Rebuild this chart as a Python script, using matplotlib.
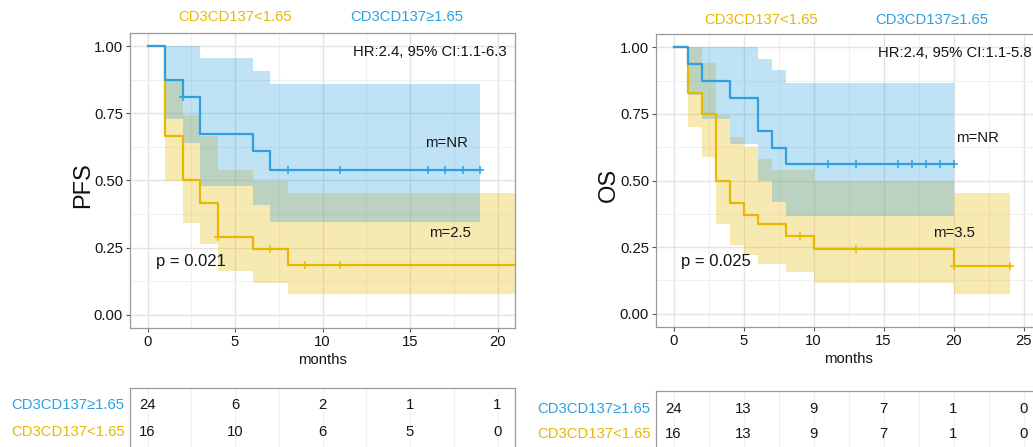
import matplotlib
matplotlib.use("Agg")
import matplotlib.pyplot as plt
import numpy as np
from matplotlib.transforms import blended_transform_factory

plt.rcParams["font.family"] = ["Liberation Sans", "DejaVu Sans"]

YELLOW = "#E7B800"
BLUE = "#2E9FDF"
INK = "#151515"
LABEL_LO = "CD3CD137<1.65"
LABEL_HI = "CD3CD137\u22651.65"

# ---- PFS (left) ----
pfs_hi_time = [0, 1, 2, 3, 6, 7]
pfs_hi_surv = [1.0, 0.875, 0.81, 0.675, 0.61, 0.54]
pfs_hi_end = 19
pfs_hi_censor = [2, 8, 11, 16, 17, 18, 19]
pfs_hi_ci_time = [1, 2, 3, 6, 7]
pfs_hi_ci_upper = [1.0, 1.0, 0.955, 0.91, 0.86]
pfs_hi_ci_lower = [0.728, 0.64, 0.479, 0.41, 0.344]

pfs_lo_time = [0, 1, 2, 3, 4, 6, 8]
pfs_lo_surv = [1.0, 0.667, 0.5, 0.417, 0.29, 0.246, 0.184]
pfs_lo_end = 22
pfs_lo_censor = [4, 7, 9, 11]
pfs_lo_ci_time = [1, 2, 3, 4, 6, 8]
pfs_lo_ci_upper = [0.875, 0.746, 0.665, 0.541, 0.50, 0.455]
pfs_lo_ci_lower = [0.5, 0.343, 0.265, 0.162, 0.118, 0.078]

pfs_risk_time = [0, 5, 10, 15, 20]
pfs_risk_hi = [24, 6, 2, 1, 1]
pfs_risk_lo = [16, 10, 6, 5, 0]

# ---- OS (right) ----
os_hi_time = [0, 1, 2, 4, 6, 7, 8]
os_hi_surv = [1.0, 0.936, 0.873, 0.81, 0.685, 0.623, 0.563]
os_hi_end = 20
os_hi_censor = [11, 13, 16, 17, 18, 19, 20]
os_hi_ci_time = [1, 2, 4, 6, 7, 8]
os_hi_ci_upper = [1.0, 1.0, 1.0, 0.955, 0.913, 0.865]
os_hi_ci_lower = [0.82, 0.73, 0.638, 0.50, 0.42, 0.365]

os_lo_time = [0, 1, 2, 3, 4, 5, 6, 8, 10, 20]
os_lo_surv = [1.0, 0.83, 0.75, 0.5, 0.416, 0.372, 0.335, 0.291, 0.244, 0.18]
os_lo_end = 24
os_lo_censor = [9, 13, 20, 24]
os_lo_ci_time = [1, 2, 3, 4, 5, 6, 7, 8, 10, 20]
os_lo_ci_upper = [1.0, 0.94, 0.745, 0.665, 0.626, 0.582, 0.54, 0.54, 0.50, 0.454]
os_lo_ci_lower = [0.70, 0.59, 0.335, 0.256, 0.22, 0.187, 0.187, 0.155, 0.115, 0.074]

os_risk_time = [0, 5, 10, 15, 20, 25]
os_risk_hi = [24, 13, 9, 7, 1, 0]
os_risk_lo = [16, 13, 9, 7, 1, 0]

W, H = 1033, 447
FS = 10.7


def box(x0, y0, x1, y1):
    return [x0 / W, 1 - y1 / H, (x1 - x0) / W, (y1 - y0) / H]


def style_frame(ax):
    for side in ax.spines.values():
        side.set_color("#9a9a9a")
        side.set_linewidth(0.9)


def km_curve(ax, time, surv, end, censor, ci_time, ci_upper, ci_lower, colour):
    ax.fill_between(ci_time + [end], ci_lower + [ci_lower[-1]], ci_upper + [ci_upper[-1]],
                    step="post", color=colour, alpha=0.3, lw=0, zorder=2)
    ax.step(time + [end], surv + [surv[-1]], where="post", color=colour, lw=1.6, zorder=4)
    idx = np.searchsorted(time, censor, side="right") - 1
    ax.plot(censor, np.asarray(surv)[idx], "+", color=colour, ms=6, mew=1.1, zorder=5)


def km_panel(ax, xmax, step, curves, ylabel, hr, m_hi, m_lo, p_text):
    for c in curves:
        km_curve(ax, *c)
    ax.set_xticks(np.arange(0, xmax + 0.1, step))
    ax.set_xticks(np.arange(step / 2, xmax + step, step), minor=True)
    ax.set_yticks([0, 0.25, 0.5, 0.75, 1.0])
    ax.set_yticks([0.125, 0.375, 0.625, 0.875], minor=True)
    ax.set_yticklabels(["0.00", "0.25", "0.50", "0.75", "1.00"])
    ax.set_xlim(-0.05 * xmax, 1.05 * xmax)
    ax.set_ylim(-0.05, 1.05)
    ax.grid(which="major", color="#e3e3e3", lw=1.0, zorder=0)
    ax.grid(which="minor", color="#f0f0f0", lw=0.8, zorder=0)
    ax.tick_params(which="major", length=3, width=0.8, color="#555555", pad=2,
                   labelsize=FS, labelcolor=INK)
    ax.tick_params(which="minor", length=0)
    ax.set_xlabel("months", fontsize=FS, labelpad=3, color=INK)
    ax.text(-0.122, 0.485, ylabel, transform=ax.transAxes, rotation=90,
            ha="center", va="center", fontsize=17, color="#111111")
    ax.text(*hr[0], hr[1], ha="right", va="center", fontsize=FS, color=INK, clip_on=False)
    ax.text(*m_hi[0], m_hi[1], ha="center", va="center", fontsize=FS, color=INK)
    ax.text(*m_lo[0], m_lo[1], ha="center", va="center", fontsize=FS, color=INK)
    ax.text(*p_text[0], p_text[1], ha="left", va="center", fontsize=12, color=INK)
    style_frame(ax)


def risk_table(ax, xmax, step, times, hi, lo, ylim):
    ax.set_xticks(np.arange(0, xmax + 0.1, step))
    ax.set_xticks(np.arange(step / 2, xmax + step, step), minor=True)
    ax.set_yticks([])
    ax.set_xlim(-0.05 * xmax, 1.05 * xmax)
    ax.set_ylim(*ylim)
    ax.grid(axis="x", which="both", color="#f0f0f0", lw=0.8)
    ax.tick_params(which="both", length=0, labelbottom=False)
    for t, n in zip(times, hi):
        ax.text(t, 1, str(n), ha="center", va="center", fontsize=FS, color=INK)
    for t, n in zip(times, lo):
        ax.text(t, 0, str(n), ha="center", va="center", fontsize=FS, color=INK)
    tr = blended_transform_factory(ax.transAxes, ax.transData)
    ax.text(-0.014, 1, LABEL_HI, transform=tr, ha="right", va="center", fontsize=FS, color=BLUE)
    ax.text(-0.014, 0, LABEL_LO, transform=tr, ha="right", va="center", fontsize=FS, color=YELLOW)
    style_frame(ax)


fig = plt.figure(figsize=(W / 100, H / 100), dpi=100)

ax1 = fig.add_axes(box(130, 33, 515, 328))
km_panel(
    ax1, 20, 5,
    [
        (pfs_lo_time, pfs_lo_surv, pfs_lo_end, pfs_lo_censor,
         pfs_lo_ci_time, pfs_lo_ci_upper, pfs_lo_ci_lower, YELLOW),
        (pfs_hi_time, pfs_hi_surv, pfs_hi_end, pfs_hi_censor,
         pfs_hi_ci_time, pfs_hi_ci_upper, pfs_hi_ci_lower, BLUE),
    ],
    "PFS",
    ((20.5, 0.978), "HR:2.4, 95% CI:1.1-6.3"),
    ((17.1, 0.638), "m=NR"),
    ((17.3, 0.306), "m=2.5"),
    ((0.5, 0.198), "p = 0.021"),
)

ax2 = fig.add_axes(box(656, 34, 1041, 327))
km_panel(
    ax2, 25, 5,
    [
        (os_lo_time, os_lo_surv, os_lo_end, os_lo_censor,
         os_lo_ci_time, os_lo_ci_upper, os_lo_ci_lower, YELLOW),
        (os_hi_time, os_hi_surv, os_hi_end, os_hi_censor,
         os_hi_ci_time, os_hi_ci_upper, os_hi_ci_lower, BLUE),
    ],
    "OS",
    ((25.6, 0.98), "HR:2.4, 95% CI:1.1-5.8"),
    ((21.7, 0.66), "m=NR"),
    ((20.0, 0.303), "m=3.5"),
    ((0.5, 0.195), "p = 0.025"),
)

ax3 = fig.add_axes(box(130, 388, 515, 462))
risk_table(ax3, 20, 5, pfs_risk_time, pfs_risk_hi, pfs_risk_lo, (-1.11, 1.63))
ax4 = fig.add_axes(box(656, 391, 1041, 465))
risk_table(ax4, 25, 5, os_risk_time, os_risk_hi, os_risk_lo, (-1.24, 1.72))

fig.text(235 / W, 1 - 17 / H, LABEL_LO, color=YELLOW, fontsize=FS, ha="center", va="center")
fig.text(407 / W, 1 - 17 / H, LABEL_HI, color=BLUE, fontsize=FS, ha="center", va="center")
fig.text(761 / W, 1 - 20 / H, LABEL_LO, color=YELLOW, fontsize=FS, ha="center", va="center")
fig.text(932 / W, 1 - 20 / H, LABEL_HI, color=BLUE, fontsize=FS, ha="center", va="center")

fig.savefig("out.png", dpi=100)
